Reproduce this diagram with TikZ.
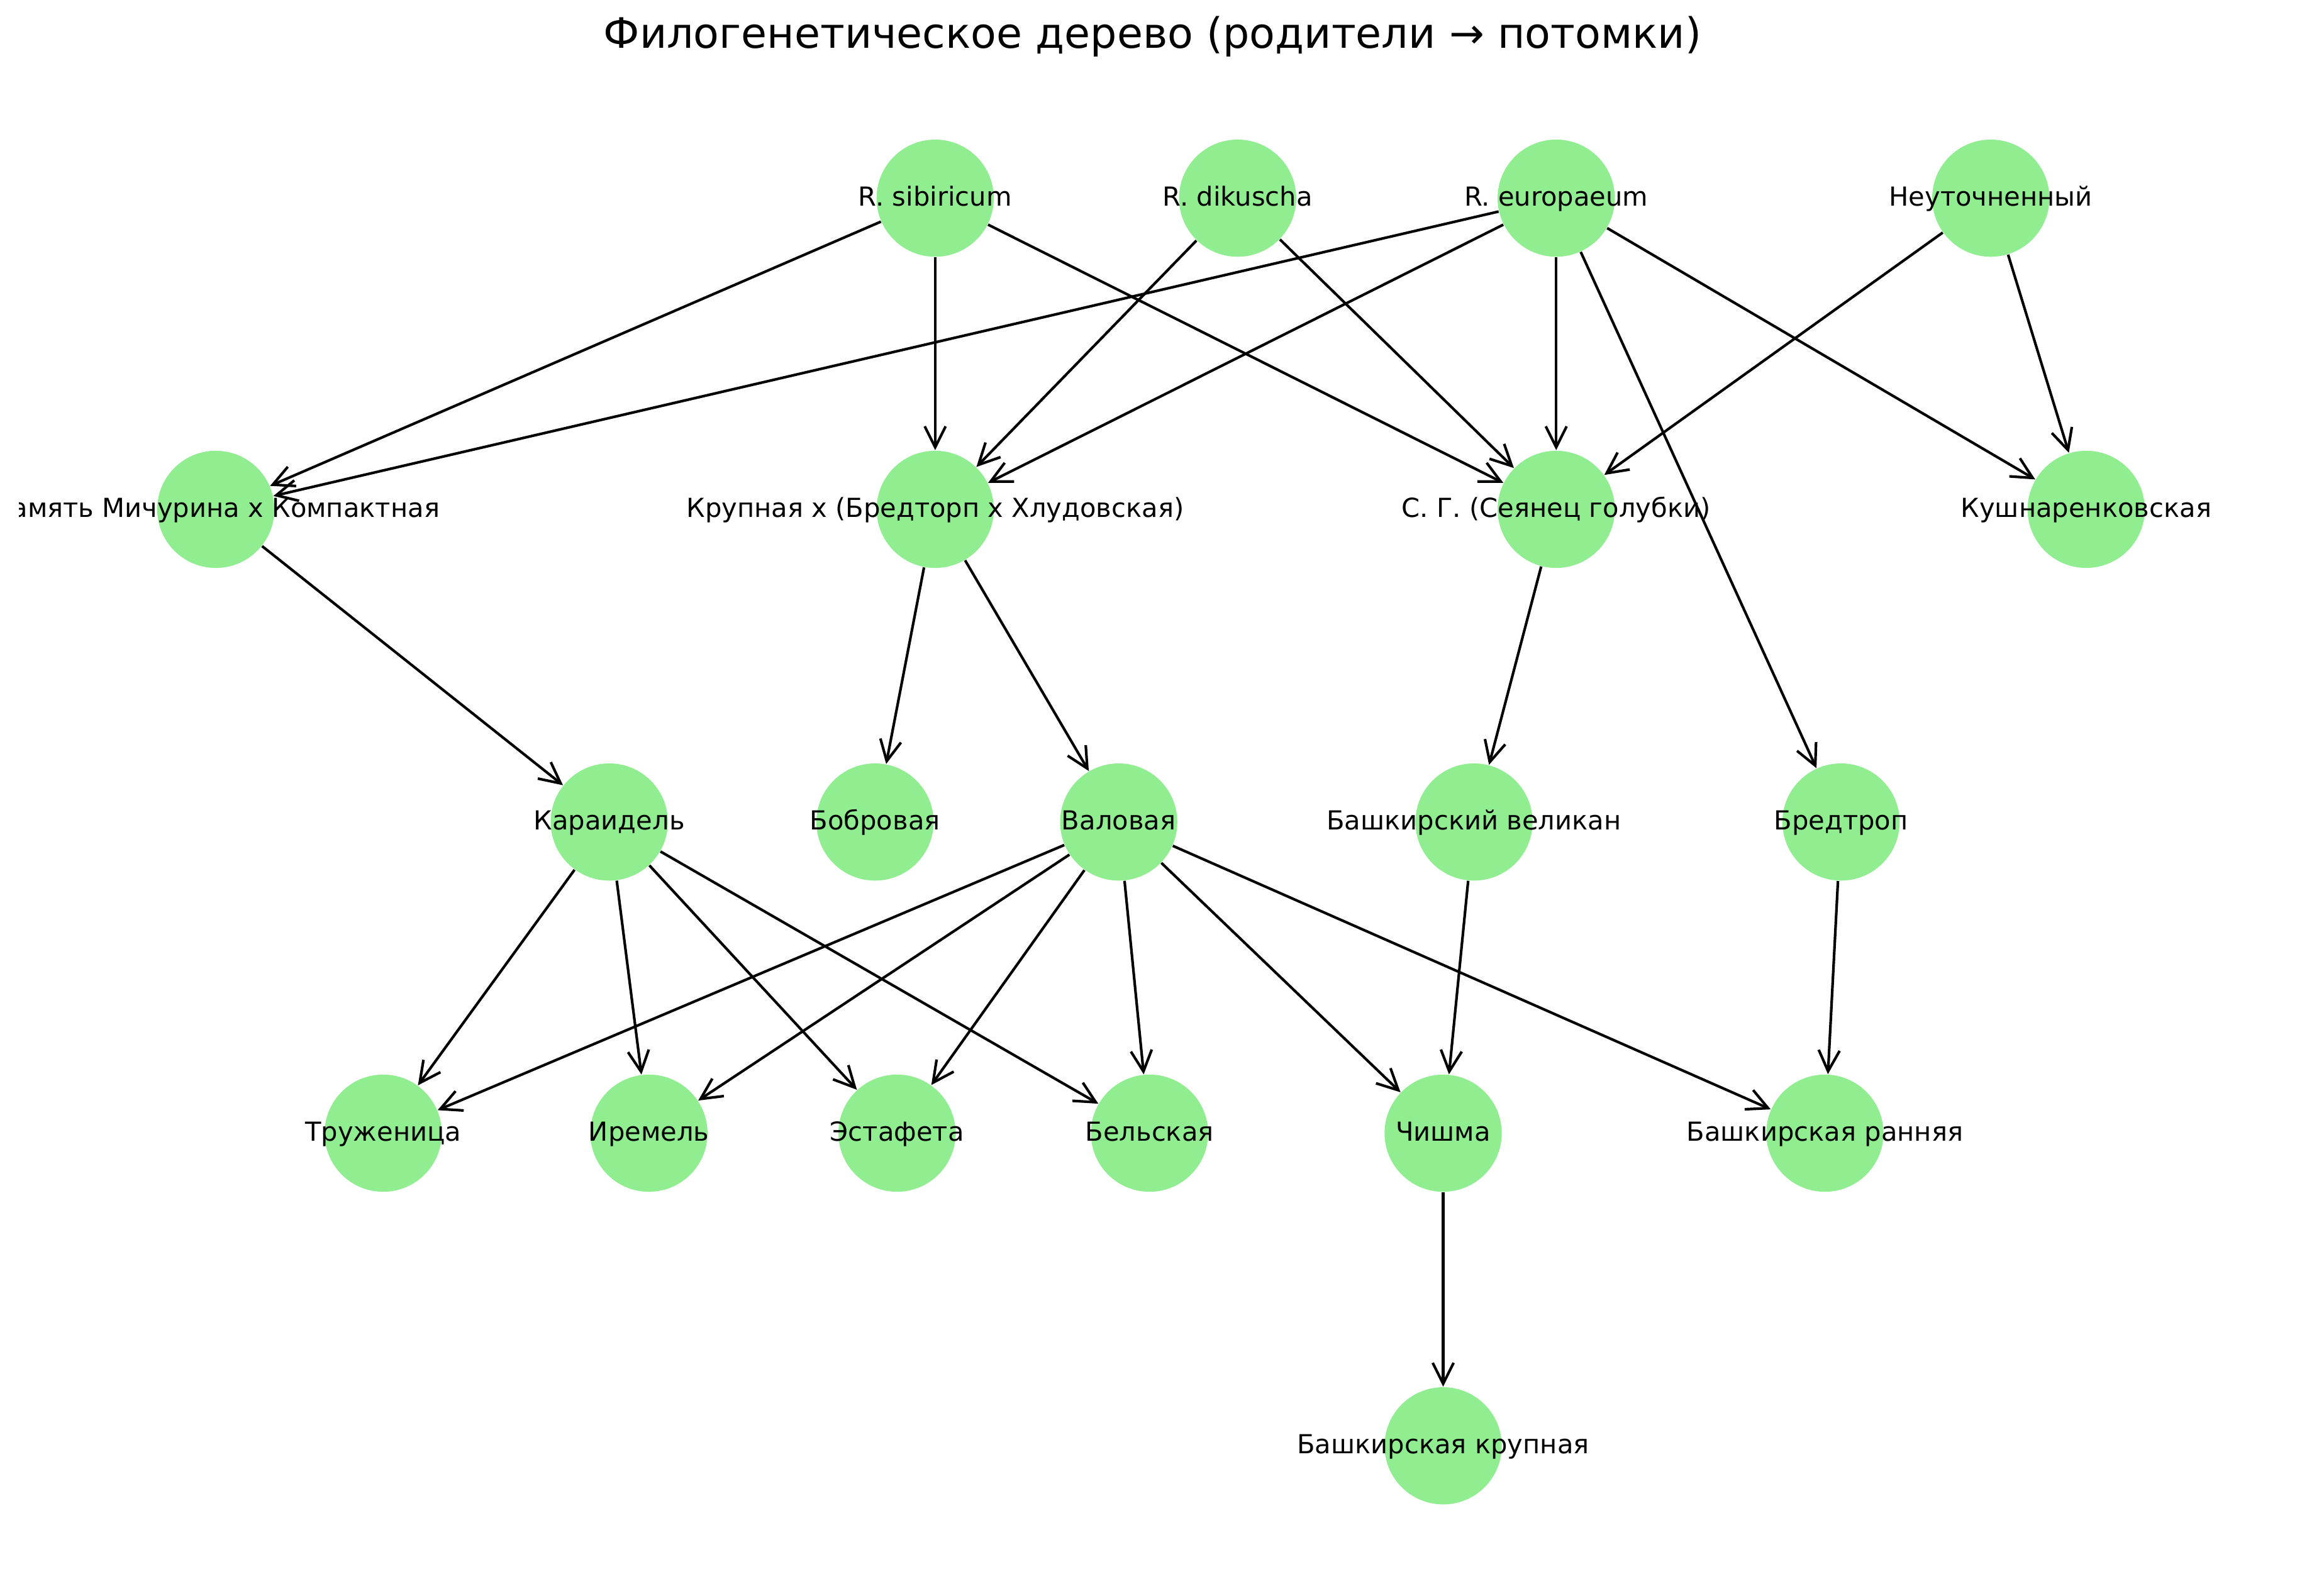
\documentclass[tikz,border=0pt]{standalone}
\usepackage{fontspec}
\setmainfont{DejaVu Sans}
\usetikzlibrary{arrows.meta}

\begin{document}
\begin{tikzpicture}[x=0.5602pt,y=-0.5602pt,
    vertex/.style={circle,fill={rgb,255:red,144;green,238;blue,144},draw=none,inner sep=0pt,minimum size=44.72pt},
    lbl/.style={font=\fontsize{10}{12}\selectfont,inner sep=0pt,text height=8.2pt,text depth=2.4pt},
    edge/.style={line width=1pt,-{Straight Barb[length=8pt,width=8pt,line width=1pt]}}]

                % Define the page
                \useasboundingbox (0,0) rectangle (1568,1087);

                % Define the title
                \node[font=\fontsize{16}{19}\selectfont] (title) at (785,25) {Филогенетическое дерево (родители → потомки)};

                % Define the first row (wild species)
                \node[vertex] (rsib) at (637,135) {};
                \node[vertex] (rdik) at (843,135) {};
                \node[vertex] (reur) at (1060,135) {};
                \node[vertex] (neut) at (1356,135) {};

                % Define the second row (parent forms)
                \node[vertex] (pam) at (147,347) {};
                \node[vertex] (krup) at (637,347) {};
                \node[vertex] (sg) at (1060,347) {};
                \node[vertex] (kush) at (1421,347) {};

                % Define the third row
                \node[vertex] (kar) at (415,560) {};
                \node[vertex] (bob) at (596,560) {};
                \node[vertex] (val) at (762,560) {};
                \node[vertex] (bvel) at (1004,560) {};
                \node[vertex] (bred) at (1254,560) {};

                % Define the fourth row
                \node[vertex] (tru) at (261,772) {};
                \node[vertex] (ire) at (442,772) {};
                \node[vertex] (est) at (611,772) {};
                \node[vertex] (bel) at (783,772) {};
                \node[vertex] (chi) at (983,772) {};
                \node[vertex] (bran) at (1243,772) {};

                % Define the last row
                \node[vertex] (bkr) at (983,985) {};

                % Add edges from the species
                \draw[edge] (rsib) -- (pam);
                \draw[edge] (rsib) -- (krup);
                \draw[edge] (rsib) -- (sg);
                \draw[edge] (rdik) -- (krup);
                \draw[edge] (rdik) -- (sg);
                \draw[edge] (reur) -- (pam);
                \draw[edge] (reur) -- (krup);
                \draw[edge] (reur) -- (sg);
                \draw[edge] (reur) -- (kush);
                \draw[edge] (reur) -- (bred);
                \draw[edge] (neut) -- (sg);
                \draw[edge] (neut) -- (kush);

                % Add edges from the parent forms
                \draw[edge] (pam) -- (kar);
                \draw[edge] (krup) -- (bob);
                \draw[edge] (krup) -- (val);
                \draw[edge] (sg) -- (bvel);

                % Add edges to the cultivars
                \draw[edge] (kar) -- (tru);
                \draw[edge] (kar) -- (ire);
                \draw[edge] (kar) -- (est);
                \draw[edge] (kar) -- (bel);
                \draw[edge] (val) -- (tru);
                \draw[edge] (val) -- (ire);
                \draw[edge] (val) -- (est);
                \draw[edge] (val) -- (bel);
                \draw[edge] (val) -- (chi);
                \draw[edge] (val) -- (bran);
                \draw[edge] (bvel) -- (chi);
                \draw[edge] (bred) -- (bran);
                \draw[edge] (chi) -- (bkr);

                % Add labels on top (clipped to the plot area)
                \begin{scope}
                \clip (12.9,0) rectangle (1568,1087);
                \node[lbl] (rsib-l) at (rsib) {R. sibiricum};
                \node[lbl] (rdik-l) at (rdik) {R. dikuscha};
                \node[lbl] (reur-l) at (reur) {R. europaeum};
                \node[lbl] (neut-l) at (neut) {Неуточненный};
                \node[lbl] (pam-l) at (pam) {Память Мичурина х Компактная};
                \node[lbl] (krup-l) at (krup) {Крупная х (Бредторп х Хлудовская)};
                \node[lbl] (sg-l) at (sg) {С. Г. (Сеянец голубки)};
                \node[lbl] (kush-l) at (kush) {Кушнаренковская};
                \node[lbl] (kar-l) at (kar) {Караидель};
                \node[lbl] (bob-l) at (bob) {Бобровая};
                \node[lbl] (val-l) at (val) {Валовая};
                \node[lbl] (bvel-l) at (bvel) {Башкирский великан};
                \node[lbl] (bred-l) at (bred) {Бредтроп};
                \node[lbl] (tru-l) at (tru) {Труженица};
                \node[lbl] (ire-l) at (ire) {Иремель};
                \node[lbl] (est-l) at (est) {Эстафета};
                \node[lbl] (bel-l) at (bel) {Бельская};
                \node[lbl] (chi-l) at (chi) {Чишма};
                \node[lbl] (bran-l) at (bran) {Башкирская ранняя};
                \node[lbl] (bkr-l) at (bkr) {Башкирская крупная};
                \end{scope}

            \end{tikzpicture}
\end{document}
